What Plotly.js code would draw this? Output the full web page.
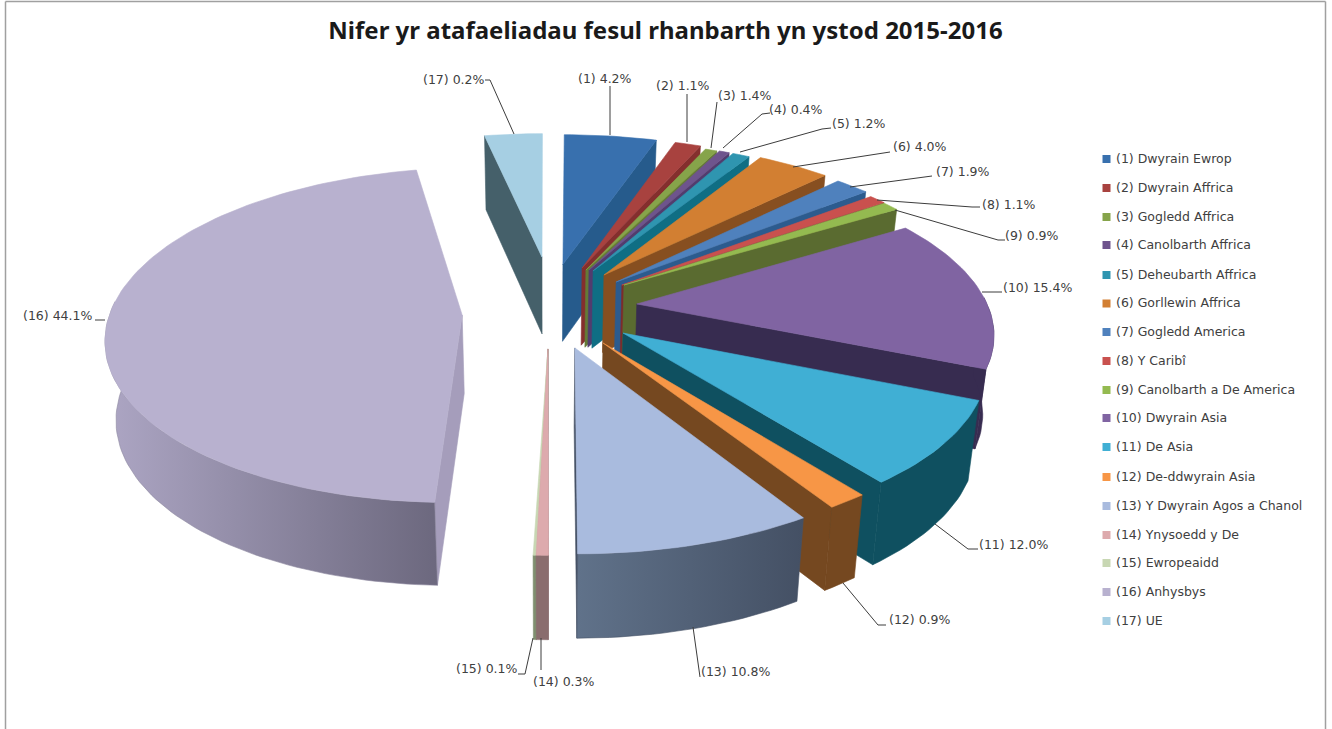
<!DOCTYPE html>
<html><head><meta charset="utf-8">
<script src="https://cdn.plot.ly/plotly-3.0.1.min.js"></script>
<style>html,body{margin:0;padding:0;background:#fff;overflow:hidden}#c{width:1332px;height:729px}</style>
</head><body><div id="c"></div>
<script>
// ---- data ----
const categories = ["Dwyrain Ewrop","Dwyrain Affrica","Gogledd Affrica","Canolbarth Affrica","Deheubarth Affrica","Gorllewin Affrica","Gogledd America","Y Caribî","Canolbarth a De America","Dwyrain Asia","De Asia","De-ddwyrain Asia","Y Dwyrain Agos a Chanol","Ynysoedd y De","Ewropeaidd","Anhysbys","UE"];
// percentages printed on the data labels
const labelPercent = ["4.2","1.1","1.4","0.4","1.2","4.0","1.9","1.1","0.9","15.4","12.0","0.9","10.8","0.3","0.1","44.1","0.2"];
// share of the circle each slice actually occupies in the drawing (%)
const drawnShare = [5.06,1.42,0.64,0.56,0.94,3.97,1.86,0.94,0.92,15.14,8.19,1.53,8.83,0.44,0.11,46.27,3.17];

// ---- styling ----
const topColor  = ["#3870AE","#A8423F","#86A44A","#6E548D","#2F95B0","#D27F32","#4F81BD","#C9514E","#94BA50","#8064A2","#40AFD4","#F79646","#A9BBDE","#DDAAAD","#C8D7B3","#B8B1CF","#A6CFE3"];
const wallColor = ["#265B8C","#842F2D","#647B36","#523C6E","#0F6E84","#874F20","#2C5B8E","#7D2B2B","#5A6B30","#372C50","#0F5060","#754820","#465266","#8A6D6E","#7F8F6F","#8D88A0","#45606A"];
const wallGradient = {12:["#60728A","#445064"],15:["#ADA6C4","#6C687E"]};

// ---- 3-D projection settings ----
const CX=545, CY=301, R=352, B=156, PERSP=0.16, DEPTH=78;
// where each slice's apex sits on the ground plane after being pulled out
const apexU=[.053,.109,.120,.129,.141,.172,.206,.222,.228,.260,.2145,.158,.081,.008,.008,-.232,-.009];
const apexV=[-.245,-.219,-.205,-.205,-.199,-.171,-.124,-.104,-.104,.019,.199,.258,.287,.293,.293,.0886,-.295];
// where each slice's outer rim is centred on the ground plane, and its radii
const rimU=[.066,.129,.144,.153,.165,.202,.238,.248,.248,.252,.1995,.146,.074,.008,.008,-.225,-.009];
const rimV=[-.285,-.264,-.235,-.235,-.229,-.221,-.174,-.134,-.129,.014,.184,.241,.287,.293,.293,.04,-.295];
const rimScaleU=[1,1,1,1,1,1,1,1,1,1,1,1,1,1,1,.996,1];
const rimScaleV=[1,1,1,1,1,1,1,1,1,1,1,1,1,1,1,1.03,1];

function project(u,v){const s=1/(1-PERSP*v);return [CX+R*u*s, CY+B*v*s];}
function drop(p){return [CX+(p[0]-CX)*0.975, p[1]+DEPTH+0.025*(p[1]-300)];}

const total=drawnShare.reduce((a,b)=>a+b,0);
const startDeg=[];let acc=0;
drawnShare.forEach(v=>{startDeg.push(acc);acc+=v/total*360;});
const rimPoint=(i,d)=>{const t=d*Math.PI/180;return project(rimU[i]+rimScaleU[i]*Math.sin(t),rimV[i]-rimScaleV[i]*Math.cos(t));};
function rim(i,a,b){const n=Math.max(2,Math.ceil((b-a)/1.5));const o=[];for(let k=0;k<=n;k++)o.push(rimPoint(i,a+(b-a)*k/n));return o;}
function poly(pts,color,grad){
  const t={type:'scatter',mode:'lines',x:pts.map(p=>p[0]).concat([pts[0][0]]),y:pts.map(p=>p[1]).concat([pts[0][1]]),
    fill:'toself',line:{color:color,width:0.6},hoverinfo:'skip',showlegend:false};
  if(grad) t.fillgradient={type:'horizontal',colorscale:[[0,grad[0]],[1,grad[1]]]}; else t.fillcolor=color;
  return t;
}
const traces=[];
function drawSlice(i){
  const a=startDeg[i], b=a+drawnShare[i]/total*360;
  const tip=project(apexU[i],apexV[i]);
  const edge=(b+a)/2<180?b:a;
  const c=rimPoint(i,edge);
  const cutCol=i===15?"#A59DBB":wallColor[i];
  traces.push(poly([tip,c,drop(c),drop(tip)],cutCol));
  const wa=Math.max(a,88), wb=Math.min(b,272);
  if(wb>wa){const r=rim(i,wa,wb);traces.push(poly(r.concat(r.map(drop).reverse()),wallColor[i],wallGradient[i]));}
  traces.push(poly([tip].concat(rim(i,a,b)),topColor[i]));
}
[16,15,14,13,0,1,2,3,4,5,6,7,8,9,10,11,12].forEach(drawSlice);

// leader lines (the axes span the whole page)
const leaders=[[[610,86],[610,135]],[[687,94],[687,142]],[[717,102],[711,148]],[[770,113],[762,114],[723,148]],[[831,128],[822,129],[740,152]],[[890,152],[793,167]],[[932,176],[850,187]],[[980,207],[972,207],[877,200]],[[1005,240],[998,240],[895,210]],[[1002,292],[982,292]],[[978,549],[968,549],[935,524]],[[886,625],[878,625],[843,583]],[[700,677],[693,627]],[[541,670],[541,638]],[[518,674],[525,674],[533,638]],[[95,320],[105,320]],[[485,80],[490,80],[514,134]]];
leaders.forEach(l=>traces.push({type:'scatter',mode:'lines',x:l.map(p=>p[0]),y:l.map(p=>p[1]),line:{color:'#3c3c3c',width:1},hoverinfo:'skip',showlegend:false}));

// data labels: left edge and middle of every text
const labelX=[578,656,718,769,832,893,936,982,1005,1003,979,889,701,533,456,23,423];
const labelY=[79,86,96,110,124,147,172,205,236,288,545,620,672,682,669,316,80];
const labelFont={family:'"DejaVu Sans",sans-serif',size:12.5,color:'#404040'};
const annotations=labelPercent.map((p,i)=>({x:labelX[i],y:labelY[i],xref:'x',yref:'y',xanchor:'left',yanchor:'middle',showarrow:false,align:'left',xshift:-2,yshift:1,
  text:"("+(i+1)+") "+p+"%",font:labelFont}));

// legend: a marker column plus a text per row
const legendRows=[159,188,217,245,275,303.5,332,361,390,418,447,477,506,535,563,592,621];
traces.push({type:'scatter',mode:'markers',x:categories.map(()=>1106.5),y:legendRows,
  marker:{symbol:'square',size:8,color:topColor},hoverinfo:'skip',showlegend:false,cliponaxis:false});
categories.forEach((c,i)=>annotations.push({x:1116,y:legendRows[i],xref:'x',yref:'y',xanchor:'left',yanchor:'middle',showarrow:false,align:'left',xshift:-2,yshift:1,
  text:"("+(i+1)+") "+c,font:labelFont}));

const frame=[[5.5,729,5.5,1.5],[5.5,1.5,1325.5,1.5],[1325.5,1.5,1325.5,729]].map(s=>({type:'line',xref:'x',yref:'y',x0:s[0],y0:s[1],x1:s[2],y1:s[3],line:{color:'#a0a0a0',width:1.5},layer:'below'}));

Plotly.newPlot('c',traces,{
  width:1332,height:729,margin:{l:0,r:0,t:0,b:0,pad:0},paper_bgcolor:'#fff',plot_bgcolor:'#fff',showlegend:false,
  title:{text:"<b>Nifer yr atafaeliadau fesul rhanbarth yn ystod 2015-2016</b>",x:665.5/1332,xanchor:'center',y:1-31/729,yanchor:'middle',font:{family:'"Noto Sans",sans-serif',size:24,color:'#1a1a1a'}},
  xaxis:{range:[0,1332],visible:false,fixedrange:true},
  yaxis:{range:[729,0],visible:false,fixedrange:true},
  shapes:frame,annotations:annotations
},{displayModeBar:false,staticPlot:true});
</script></body></html>
